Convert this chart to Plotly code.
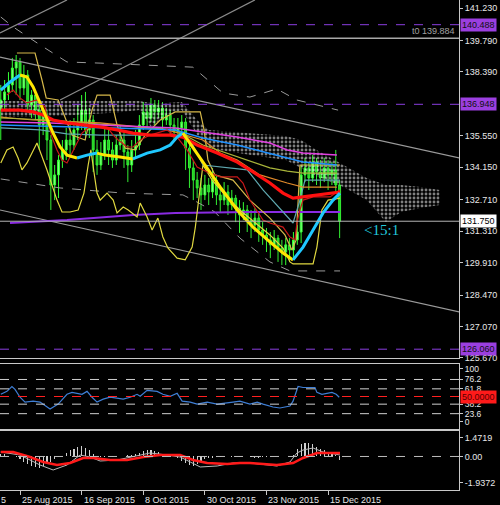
import plotly.graph_objects as go
from plotly.subplots import make_subplots

# ---------------- data ----------------
bar_idx = list(range(89))
opens = [136.69,137.14,137.50,137.81,138.56,138.83,137.67,138.25,136.92,137.36,
         136.69,136.03,136.47,135.36,133.36,133.81,134.47,134.92,135.36,135.14,
         135.81,136.03,136.69,135.81,136.25,134.92,134.25,134.69,135.36,134.92,
         134.47,135.14,135.36,134.83,134.25,134.92,135.14,136.03,136.61,136.34,
         136.92,136.61,136.78,136.25,136.47,136.03,135.72,135.90,136.16,135.00,
         134.12,133.58,133.23,132.92,133.36,133.05,133.58,132.92,132.69,133.05,
         132.47,132.78,132.33,132.03,132.25,131.80,131.58,131.89,131.36,131.14,
         130.92,130.70,131.00,130.56,130.38,130.70,130.47,130.92,131.27,133.81,
         134.12,133.67,134.38,133.94,133.67,134.12,133.81,134.03,133.36]
highs = [137.81,138.03,138.38,139.01,139.14,139.01,138.70,138.47,137.58,137.50,
         137.14,136.78,136.69,135.58,134.25,134.69,135.36,135.90,136.25,136.34,
         136.92,137.36,137.50,136.78,136.47,135.36,135.27,135.90,135.81,135.27,
         135.58,136.03,135.72,135.14,135.36,135.81,136.47,137.05,136.92,137.23,
         137.14,137.14,137.05,136.78,136.69,136.34,136.34,136.47,136.34,135.27,
         134.47,133.94,133.67,133.81,133.67,134.12,133.81,133.23,133.49,133.36,
         133.14,132.92,132.69,132.60,132.47,132.25,132.33,132.16,131.71,131.45,
         131.27,131.36,131.14,130.92,131.00,131.00,131.27,131.58,134.25,134.56,
         134.38,134.69,134.56,134.47,134.56,134.47,134.38,134.92,133.58]
lows = [135.36,136.69,137.14,137.50,137.36,137.14,137.36,136.61,136.34,136.25,
        134.92,135.58,134.47,132.25,132.69,132.78,134.12,134.47,134.56,134.92,
        135.36,135.81,135.36,135.45,133.94,133.81,134.03,134.47,134.25,134.12,
        134.25,134.92,134.12,133.49,133.94,134.56,134.92,135.81,135.90,136.16,
        136.03,136.34,135.81,136.03,135.58,135.27,135.45,135.58,134.03,133.23,
        132.69,132.78,132.25,132.69,132.47,132.78,132.47,132.12,132.47,132.03,
        132.25,131.71,131.23,131.80,131.27,131.00,131.27,130.83,130.70,130.38,
        130.11,130.47,129.94,129.80,129.80,129.94,130.11,130.70,130.78,133.49,
        133.14,133.49,133.36,133.23,133.49,133.14,133.36,133.05,131.00]
closes = [137.14,137.50,137.81,138.56,138.83,137.67,138.25,136.92,137.36,136.69,
          136.03,136.47,135.36,133.36,133.81,134.47,134.92,135.36,135.14,135.81,
          136.03,136.69,135.81,136.25,134.92,134.25,134.69,135.36,134.92,134.47,
          135.14,135.36,134.83,134.25,134.92,135.14,136.03,136.61,136.34,136.92,
          136.61,136.78,136.25,136.47,136.03,135.72,135.90,136.16,135.00,134.12,
          133.58,133.23,132.92,133.36,133.05,133.58,132.92,132.69,133.05,132.47,
          132.78,132.33,132.03,132.25,131.80,131.58,131.89,131.36,131.14,130.92,
          130.70,131.00,130.56,130.38,130.70,130.47,130.92,131.27,133.81,134.12,
          133.67,134.38,133.94,133.67,134.12,133.81,134.03,133.36,131.75]

date_tick_idx = [5, 21, 37, 53, 69, 85]
date_tick_text = ["25 Aug 2015", "16 Sep 2015", "8 Oct 2015", "30 Oct 2015", "23 Nov 2015", "15 Dec 2015"]
price_ticks = [141.230, 139.790, 138.390, 135.550, 134.150, 132.710, 131.310, 129.910, 128.470, 127.070, 125.670]
x_range = [-0.2, 119.0]
price_range = [125.669, 141.586]

# Hull-type MA (cyan when rising, yellow when falling)
hma_x = [0, 2.4, 5, 6.8, 8.4, 10.2, 12, 13.6, 15.4, 17.2, 19.8, 22.4, 25, 27, 31, 34.3, 38, 41.4, 44, 45.8,
         47.3, 52.5, 57, 61.4, 65.5, 69.9, 73.3, 75.9, 78.5, 81.1, 83.7, 86.3, 88.1]
hma_y = [137.58, 137.94, 138.25, 138.16, 137.72, 137.01, 136.38, 135.67, 135.05, 134.69, 134.56, 134.69, 134.78,
         134.69, 134.61, 134.52, 134.78, 134.92, 135.14, 135.49, 135.67, 134.38, 133.27, 132.25, 131.49, 130.83,
         130.34, 130.03, 130.60, 131.36, 132.12, 132.69, 133.00]

red_x = [0, 5, 8.4, 11, 13.6, 17.2, 21.4, 25.8, 30.2, 34.3, 38.8, 43.2, 44, 47.3, 51, 56.2, 61.4, 65.5, 69.9, 73.3,
         75.9, 78.5, 82.9, 88.1]
red_y = [136.69, 136.69, 136.61, 136.47, 136.25, 136.12, 136.03, 135.94, 135.81, 135.67, 135.58, 135.58, 135.58,
         135.49, 135.14, 134.78, 134.38, 133.94, 133.45, 133.00, 132.78, 132.83, 132.92, 133.05]

slow_x = [0, 12.8, 25.8, 38.8, 45.3, 52.5, 61.4, 69.9, 74.4, 78.5, 87.3]
magenta_y = [136.16, 136.12, 136.03, 135.94, 135.90, 135.72, 135.49, 135.23, 134.92, 134.78, 134.69]
blue_y = [136.03, 135.98, 135.90, 135.85, 135.81, 135.45, 135.14, 134.78, 134.56, 134.38, 134.25]
olive_y = [136.34, 136.25, 136.07, 135.90, 135.81, 135.14, 134.61, 134.12, 133.98, 133.89, 133.89]

orange_x = [0, 8.4, 25.8, 43.2, 52.5, 57, 61.4, 65.5, 67.3, 74.4, 78.5, 82.9, 87.3]
orange_y = [136.38, 136.25, 136.12, 135.81, 135.36, 134.78, 134.47, 134.03, 133.81, 133.45, 133.27, 133.27, 133.27]

teal_x = [0, 10.2, 17.2, 25.8, 45.3, 49.2, 52.5, 64, 68.1, 74.4, 75.9, 77.7, 79, 88.1]
teal_y = [135.90, 135.81, 135.63, 135.58, 135.58, 135.36, 134.25, 134.03, 133.14, 131.94, 131.67, 132.69, 133.58, 133.58]

darkred_x = [1.6, 3.2, 5, 6.8, 9.4, 11.5, 12.3, 13.3, 14.6, 15.9, 17.2, 18.5, 19.8, 21.1, 22.7, 25, 27.6, 29.2,
             30.5, 32.8, 34.4, 36.2, 38.8, 43.2, 45.8, 48.4, 51, 53.6, 57, 61.4, 62.9, 64.7, 68.1, 69.9, 73.3,
             75.1, 76.4, 76.9, 77.7, 78.5, 81.1, 85.5, 88.1]
darkred_y = [137.36, 137.58, 137.23, 137.01, 137.14, 136.83, 136.12, 135.49, 134.92, 134.47, 134.34, 134.78,
             135.23, 135.67, 135.90, 135.94, 135.94, 135.58, 135.36, 135.05, 135.05, 135.36, 135.58, 135.81,
             135.49, 134.92, 134.16, 133.94, 133.72, 133.72, 133.45, 132.69, 131.80, 131.67, 131.49, 131.05,
             130.92, 131.67, 132.25, 132.69, 132.83, 132.83, 133.14]

purple_x = [2.4, 17.2, 34.4, 45.3, 64.7, 88.1]
purple_y = [131.67, 131.80, 132.03, 132.12, 132.16, 132.16]

khaki_x = [4.2, 8.9, 10.7, 11.8, 14.9, 16.4, 18.5, 21.9, 23.7, 25, 28.4, 30.2, 32.3, 34.9, 37.5, 41.4, 45.3, 47.1,
           51.8, 52.8, 53.8, 55.6, 60.3, 64.7, 69.9, 73.8, 75.6, 76.7, 77.7, 79, 88.1]
khaki_y = [139.23, 139.23, 138.03, 137.23, 137.14, 136.47, 135.58, 135.36, 136.69, 137.36, 137.36, 136.03, 135.00,
           134.92, 135.58, 136.25, 136.61, 136.61, 136.61, 135.81, 134.47, 133.81, 133.58, 132.69, 131.89, 131.14,
           130.47, 130.92, 134.25, 134.25, 134.25]

yellow_x = [0, 1.6, 3.2, 4.5, 5.5, 6.8, 8.1, 9.4, 12, 14.6, 15.9, 18, 20.1, 21.6, 22.7, 23.4, 24.2, 25, 25.8, 27.6,
            29.2, 30.2, 31.8, 33.1, 35.4, 36.2, 38, 39.3, 40.8, 42.1, 43.4, 45.8, 47.9, 49.7, 50.5, 51.5, 52.5,
            54.9, 58.2, 62.1, 66, 69.9, 73.3, 75.1, 75.9, 81.1, 82.1, 83.4, 85, 88.1]
yellow_y = [134.34, 134.92, 135.05, 134.56, 134.03, 134.34, 134.78, 135.23, 134.03, 132.69, 132.16, 132.16, 132.25,
            133.00, 134.25, 134.92, 133.94, 133.00, 132.69, 133.00, 132.69, 132.12, 132.38, 132.25, 131.94, 132.56,
            131.94, 131.36, 131.89, 131.05, 130.56, 130.11, 130.03, 130.60, 131.45, 132.92, 134.25, 133.58, 132.92,
            132.25, 131.71, 131.14, 130.56, 129.94, 129.85, 129.85, 130.60, 132.25, 132.69, 132.78]

band_up_x = [0, 3.2, 10.2, 17.2, 25.8, 49.9, 57.7, 64.7, 71.7, 76.9, 87.6]
band_up_y = [140.83, 140.39, 139.59, 138.83, 138.78, 138.60, 137.45, 137.27, 137.63, 137.14, 136.69]
band_dn_x = [0, 15.4, 31.8, 47.3, 51, 55.6, 62.1, 69.9, 75.1, 88.1]
band_dn_y = [133.63, 133.23, 133.00, 132.92, 132.60, 132.16, 131.00, 129.94, 129.54, 129.54]

cloud_idx = [0, 15, 31, 36, 39, 43, 47, 51, 54, 65, 74, 78, 82, 89, 95, 100, 104, 109, 114]
cloud_top = [137.10, 137.10, 137.10, 137.10, 137.01, 137.01, 137.05, 136.25, 135.81, 135.67, 135.54, 135.36,
             134.92, 134.25, 133.67, 133.36, 133.36, 133.27, 133.14]
cloud_bot = [136.38, 136.43, 136.60, 136.69, 135.94, 136.47, 136.69, 135.58, 135.00, 134.69, 134.47, 134.12,
             133.76, 133.27, 132.69, 131.71, 132.16, 132.34, 132.47]

# trend lines: (x0, y0, x1, y1)
channel_upper = [-0.2, 139.05, 119.3, 134.56]
channel_lower = [-0.2, 132.25, 119.3, 127.71]
rising_a = [15.4, 137.14, 66.0, 141.59]
rising_b = [-0.2, 140.12, 17.2, 141.59]

purple_levels = [140.488, 136.948, 126.060]
t0_level = 139.884
bid_price = 131.750

# RSI
rsi_x = [0, 1.6, 2.9, 3.7, 5, 6.3, 8.4, 10.2, 12.8, 14.9, 17.2, 18.5, 21.1, 22.4, 23.7, 25, 26.6, 28.4, 31.8,
         33.6, 35.4, 36.2, 38, 40.6, 42.1, 44, 45.8, 47.1, 49.2, 51, 53.6, 56.2, 60.3, 62.1, 64.7, 66.6, 68.1,
         70.7, 72.5, 75.1, 75.9, 77.2, 78.5, 81.6, 82.1, 83.4, 86, 87.1, 87.9]
rsi_y = [53.4, 57.9, 65.4, 60.9, 48.9, 41.4, 42.9, 41.4, 30.8, 38.3, 53.4, 56.4, 53.4, 57.9, 48.9, 41.4, 45.9,
         48.9, 45.9, 48.9, 53.4, 50.4, 59.4, 57.9, 53.4, 50.4, 54.9, 42.9, 41.4, 38.3, 41.4, 38.3, 41.4, 42.9,
         38.3, 41.4, 38.3, 33.8, 32.3, 35.3, 42.9, 65.4, 63.9, 63.9, 56.4, 53.4, 56.4, 53.4, 48.9]
rsi_levels = [76.2, 61.8, 38.2, 23.6]
rsi_mid = 50.0
rsi_tick_pos = [92.5, 76.2, 61.8, 38.2, 23.6, 11.3]
rsi_tick_text = ["100", "76.2", "61.8", "38.2", "23.6", "0"]

# MACD
macd_hist = [0.15, 0.12, 0.05, 0.0, -0.05, -0.15, -0.3, -0.45, -0.55, -0.6,
             -0.65, -0.55, -0.45, -0.3, -0.15, -0.05, 0.05, 0.2, 0.35, 0.45,
             0.55, 0.6, 0.5, 0.35, 0.15, 0.0, -0.05, -0.05, 0.0, -0.05,
             0.0, 0.05, 0.05, 0.1, 0.1, 0.15, 0.2, 0.3, 0.35, 0.4,
             0.3, 0.25, 0.15, 0.1, 0.05, 0.0, -0.1, -0.25, -0.4, -0.5,
             -0.55, -0.45, -0.3, -0.15, -0.1, -0.1, -0.05, -0.05, 0.0, 0.0,
             -0.05, -0.05, -0.05, 0.0, 0.0, -0.05, -0.1, -0.1, -0.05, -0.05,
             0.0, 0.05, 0.05, 0.0, 0.05, 0.05, 0.1, 0.45, 0.7, 0.8,
             0.75, 0.7, 0.55, 0.45, 0.35, 0.25, 0.2, 0.1, -0.2]
macd_line_x = [0, 5, 10.2, 13.6, 17.2, 20.6, 23.2, 25.8, 30.2, 36.2, 38.8, 43.2, 46.6, 49.2, 51.8, 56.2, 60.3,
               64.7, 71.7, 75.1, 76.9, 78.5, 81.1, 83.7, 88.1]
macd_line_y = [0.258, 0.085, -0.493, -0.781, -0.493, 0.085, -0.030, -0.262, -0.204, 0.085, 0.201, 0.085, -0.030,
               -0.319, -0.608, -0.550, -0.377, -0.377, -0.550, -0.319, 0.201, 0.374, 0.490, 0.258, 0.085]
signal_x = [0, 3.2, 7.6, 11, 14.6, 18, 21.4, 24, 28.4, 32.8, 37, 41.4, 46.6, 49.9, 53.6, 58.8, 62.1, 64.7, 71.7,
            75.9, 78.5, 82.1, 85.5, 88.1]
signal_y = [0.258, 0.258, -0.030, -0.319, -0.493, -0.377, -0.088, -0.088, -0.204, -0.204, -0.030, 0.085, 0.085,
            -0.204, -0.377, -0.435, -0.377, -0.377, -0.493, -0.377, -0.088, 0.201, 0.201, 0.201]
macd_range = [-1.9372, 1.4719]
macd_tick_pos = [1.07, 0.0, -1.53]
macd_tick_text = ["1.4719", "0.00", "-1.9372"]

# ---------------- figure ----------------
FONT = "Liberation Sans"
AXC = "#c8c8c8"
TXT = "#e8e8e8"

fig = make_subplots(rows=3, cols=1, shared_xaxes=True, vertical_spacing=0.005)

# cloud
fig.add_trace(go.Scatter(x=cloud_idx + cloud_idx[::-1], y=cloud_top + cloud_bot[::-1], mode="lines",
                         fill="toself", fillcolor="rgba(0,0,0,0)", line=dict(width=0),
                         fillpattern=dict(shape=".", fgcolor="#ffffff", bgcolor="rgba(0,0,0,0)", size=4,
                                          solidity=0.4),
                         hoverinfo="skip"), row=1, col=1)

# trend lines
for seg, col in [(channel_upper, "#9a9a9a"), (channel_lower, "#9a9a9a"), (rising_a, "#8a8a8a"),
                 (rising_b, "#8a8a8a")]:
    fig.add_trace(go.Scatter(x=[seg[0], seg[2]], y=[seg[1], seg[3]], mode="lines",
                             line=dict(color=col, width=1.2)), row=1, col=1)

# dashed bands
fig.add_trace(go.Scatter(x=band_up_x, y=band_up_y, mode="lines", line=dict(color="#9a9a9a", width=1, dash="dash")),
              row=1, col=1)
fig.add_trace(go.Scatter(x=band_dn_x, y=band_dn_y, mode="lines", line=dict(color="#9a9a9a", width=1, dash="dash")),
              row=1, col=1)

# candles
fig.add_trace(go.Candlestick(x=bar_idx, open=opens, high=highs, low=lows, close=closes,
                             increasing=dict(line=dict(color="#33ff33", width=1), fillcolor="#8cff8c"),
                             decreasing=dict(line=dict(color="#33ee33", width=1), fillcolor="#22cc22"),
                             whiskerwidth=0), row=1, col=1)

# indicator lines
fig.add_trace(go.Scatter(x=purple_x, y=purple_y, mode="lines", line=dict(color="#8a2be2", width=2)), row=1, col=1)
fig.add_trace(go.Scatter(x=yellow_x, y=yellow_y, mode="lines", line=dict(color="#e0d840", width=1.2)), row=1, col=1)
fig.add_trace(go.Scatter(x=khaki_x, y=khaki_y, mode="lines", line=dict(color="#d6b84a", width=1.2)), row=1, col=1)
fig.add_trace(go.Scatter(x=teal_x, y=teal_y, mode="lines", line=dict(color="#5fa8b0", width=1.2)), row=1, col=1)
fig.add_trace(go.Scatter(x=orange_x, y=orange_y, mode="lines", line=dict(color="#e08a2a", width=1.2)), row=1, col=1)
fig.add_trace(go.Scatter(x=slow_x, y=olive_y, mode="lines", line=dict(color="#a8b43a", width=1.2)), row=1, col=1)
fig.add_trace(go.Scatter(x=slow_x, y=blue_y, mode="lines", line=dict(color="#1e90ff", width=1.5)), row=1, col=1)
fig.add_trace(go.Scatter(x=slow_x, y=magenta_y, mode="lines", line=dict(color="#e040e0", width=1.5)), row=1, col=1)
fig.add_trace(go.Scatter(x=darkred_x, y=darkred_y, mode="lines", line=dict(color="#c81818", width=1.2)), row=1, col=1)
fig.add_trace(go.Scatter(x=red_x, y=red_y, mode="lines", line=dict(color="#ff1010", width=3.2)), row=1, col=1)

# Hull MA split by direction
segs = []
cur_x, cur_y = [hma_x[0]], [hma_y[0]]
cur_up = hma_y[1] >= hma_y[0]
for k in range(1, len(hma_x)):
    up = hma_y[k] >= hma_y[k - 1]
    if up != cur_up:
        segs.append((cur_up, cur_x, cur_y))
        cur_x, cur_y = [hma_x[k - 1]], [hma_y[k - 1]]
        cur_up = up
    cur_x.append(hma_x[k])
    cur_y.append(hma_y[k])
segs.append((cur_up, cur_x, cur_y))
for up, sx, sy in segs:
    fig.add_trace(go.Scatter(x=sx, y=sy, mode="lines",
                             line=dict(color="#20c8ff" if up else "#ffe600", width=3)), row=1, col=1)

# RSI
fig.add_trace(go.Scatter(x=rsi_x, y=rsi_y, mode="lines", line=dict(color="#3f7fd6", width=1.2)), row=2, col=1)

# MACD
fig.add_trace(go.Bar(x=bar_idx, y=macd_hist, marker=dict(color="#cfcfcf", line=dict(width=0)), width=0.3),
              row=3, col=1)
fig.add_trace(go.Scatter(x=macd_line_x, y=macd_line_y, mode="lines", line=dict(color="#b8b8b8", width=1)),
              row=3, col=1)
fig.add_trace(go.Scatter(x=signal_x, y=signal_y, mode="lines", line=dict(color="#ff1a1a", width=2.5)),
              row=3, col=1)

# horizontal levels
for lv in purple_levels:
    fig.add_shape(type="line", xref="x domain", x0=0, x1=1, yref="y", y0=lv, y1=lv,
                  line=dict(color="#8a3ee0", width=1, dash="dash"))
fig.add_shape(type="line", xref="x domain", x0=0, x1=1, yref="y", y0=t0_level, y1=t0_level,
              line=dict(color="#a8a8a8", width=1.5))
fig.add_shape(type="line", xref="x domain", x0=0, x1=1, yref="y", y0=bid_price, y1=bid_price,
              line=dict(color="#b4b4b4", width=1))
for lv in rsi_levels:
    fig.add_shape(type="line", xref="x2 domain", x0=0, x1=1, yref="y2", y0=lv, y1=lv,
                  line=dict(color="#cfcfcf", width=1, dash="dash"))
fig.add_shape(type="line", xref="x2 domain", x0=0, x1=1, yref="y2", y0=rsi_mid, y1=rsi_mid,
              line=dict(color="#ff2020", width=1, dash="dash"))
fig.add_shape(type="line", xref="x3 domain", x0=0, x1=1, yref="y3", y0=0, y1=0,
              line=dict(color="#bdbdbd", width=1, dash="dash"))

# annotations: price boxes
def box(y, text, bg, fg, yref="y"):
    fig.add_annotation(xref="paper", x=1, xanchor="left", xshift=1, yref=yref, y=y, yanchor="middle",
                       text=text, showarrow=False, bgcolor=bg, borderpad=1,
                       font=dict(family=FONT, size=9, color=fg))

for lv in purple_levels:
    box(lv, f"{lv:.3f}", "#9b3fe0", "#111111")
box(bid_price, f"{bid_price:.3f}", "#ffffff", "#000000")
box(rsi_mid, f"{rsi_mid:.4f}", "#ff1a1a", "#5a0000", yref="y2")

fig.add_annotation(xref="paper", x=1, xanchor="right", xshift=-2, yref="y", y=t0_level, yanchor="bottom",
                   text=f"t0 {t0_level:.3f}", showarrow=False, font=dict(family=FONT, size=9, color="#a0a0a0"))
fig.add_annotation(xref="x", x=93.8, xanchor="left", yref="y", y=131.36, yanchor="middle", text="<15:1",
                   showarrow=False, font=dict(family="Liberation Serif", size=15, color="#22c8dc"))

# date labels
for xi, tx in zip(date_tick_idx, date_tick_text):
    fig.add_annotation(xref="x3", x=xi, xanchor="left", xshift=0, yref="paper", y=0, yanchor="top", yshift=-3,
                       text=tx, showarrow=False, font=dict(family=FONT, size=9, color=TXT))
fig.add_annotation(xref="paper", x=0, xanchor="left", xshift=-1, yref="paper", y=0, yanchor="top", yshift=-3,
                   text="5", showarrow=False, font=dict(family=FONT, size=9, color=TXT))

common_x = dict(range=x_range, showgrid=False, zeroline=False, showline=True, mirror=True, linecolor=AXC,
                linewidth=1)
fig.update_xaxes(**common_x)
fig.update_xaxes(showticklabels=False, ticks="", row=1, col=1)
fig.update_xaxes(showticklabels=False, ticks="", row=2, col=1)
fig.update_xaxes(tickvals=date_tick_idx, ticks="outside", ticklen=4, tickcolor=AXC, showticklabels=False,
                 row=3, col=1)
fig.update_layout(xaxis_rangeslider_visible=False)

yfont = dict(family=FONT, size=9, color=TXT)
fig.update_yaxes(side="right", showgrid=False, zeroline=False, showline=True, linecolor=AXC, linewidth=1,
                 ticks="outside", ticklen=3, tickcolor=AXC, tickfont=yfont, automargin=False)
fig.update_yaxes(range=price_range, tickvals=price_ticks, ticktext=[f"{v:.3f}" for v in price_ticks],
                 domain=[0.2694, 1.0], row=1, col=1)
fig.update_yaxes(range=[0, 100], tickvals=rsi_tick_pos, ticktext=rsi_tick_text, domain=[0.1245, 0.2571],
                 tickfont=dict(family=FONT, size=8.5, color=TXT), row=2, col=1)
fig.update_yaxes(range=macd_range, tickvals=macd_tick_pos, ticktext=macd_tick_text, domain=[0.0, 0.1204],
                 row=3, col=1)

fig.update_layout(width=500, height=505, margin=dict(l=0, r=41, t=0, b=15), paper_bgcolor="#000000",
                  plot_bgcolor="#000000", showlegend=False, bargap=0, hovermode=False)

fig.write_html("out.html", config={"displayModeBar": False, "staticPlot": True},
               post_script="document.body.style.margin='0';document.body.style.background='#000';")
